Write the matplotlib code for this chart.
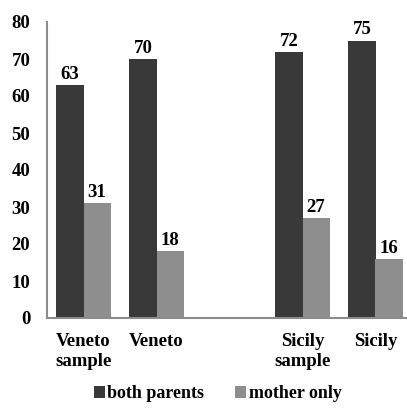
import numpy as np
import matplotlib
matplotlib.use('Agg')
import matplotlib.pyplot as plt

plt.rcParams['font.family'] = ['Liberation Serif', 'DejaVu Serif']
plt.rcParams['font.weight'] = 'bold'

# share of children by household type
regions = ['Veneto\nsample', 'Veneto', 'Sicily\nsample', 'Sicily']
both_parents = [63, 70, 72, 75]
mother_only = [31, 18, 27, 16]
series_names = ['both parents', 'mother only']
y_ticks = [0, 10, 20, 30, 40, 50, 60, 70, 80]

dark = '#393939'
light = '#8e8e8e'
fs = 13.5

fig = plt.figure(figsize=(4.07, 4.08), dpi=100)
ax = fig.add_axes([47 / 407, 1 - 318 / 408, 365 / 407, 296 / 408])

# empty slot between the two regions
x = np.array([0, 1, 3, 4])
w = 0.37
b1 = ax.bar(x - w / 2, both_parents, width=w, color=dark, label=series_names[0])
b2 = ax.bar(x + w / 2, mother_only, width=w, color=light, label=series_names[1])

for bars in (b1, b2):
    ax.bar_label(bars, labels=['{}'.format(v) for v in bars.datavalues],
                 padding=1.5, fontsize=fs, fontweight='bold', color='black')

ax.set_xlim(-0.5, 4.5)
ax.set_ylim(0, 80)
ax.set_xticks(x)
ax.set_xticklabels(regions)
ax.set_yticks(y_ticks)
ax.tick_params(axis='x', length=0, pad=11, labelsize=fs)
ax.tick_params(axis='y', length=0, pad=12, labelsize=fs)

for s in ['top', 'right']:
    ax.spines[s].set_visible(False)
for s in ['left', 'bottom']:
    ax.spines[s].set_color('#8c8c8c')
    ax.spines[s].set_linewidth(1.5)

fig.legend(loc='center', bbox_to_anchor=(0.535, 1 - 394 / 408), ncol=2, frameon=False,
           fontsize=13, handlelength=0.6, handleheight=0.6, handletextpad=0.15,
           columnspacing=1.7, borderaxespad=0)

fig.savefig('out.png', dpi=100)
